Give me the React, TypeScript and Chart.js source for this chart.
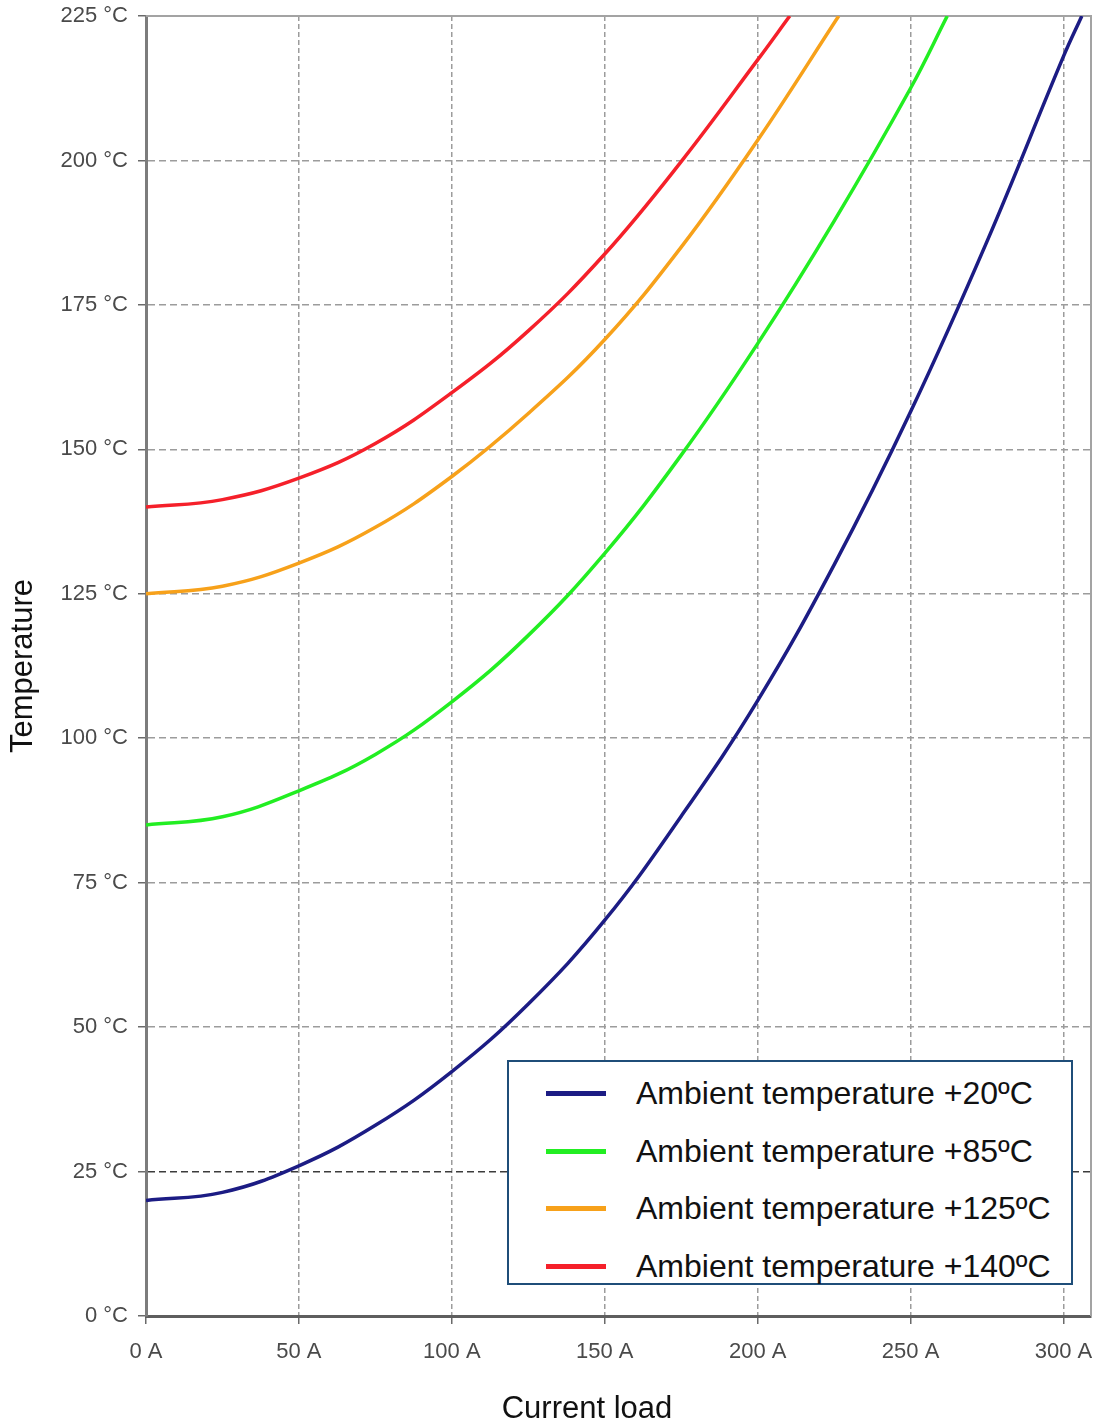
import React, { useEffect, useRef } from 'react';
import { Chart, registerables } from 'chart.js';

Chart.register(...registerables);

// ---- data ----
const seriesLabels = [
  'Ambient temperature +20ºC',
  'Ambient temperature +85ºC',
  'Ambient temperature +125ºC',
  'Ambient temperature +140ºC',
];
const seriesColors = ['#1c1c84', '#22ee22', '#f7a11a', '#f5202a'];

const amb20Current = [0, 25, 50, 75, 100, 125, 150, 175, 200, 225, 250, 275, 300, 306];
const amb20Temp = [20, 21.4, 26, 33, 42.3, 54, 68.5, 86.5, 106.5, 130, 156.5, 186, 218, 225];

const amb85Current = [0, 25, 50, 75, 100, 125, 150, 175, 200, 225, 250, 262];
const amb85Temp = [85, 86.4, 90.9, 97.2, 106.3, 117.8, 132, 149, 168.3, 189.5, 212.5, 225];

const amb125Current = [0, 25, 50, 75, 100, 125, 150, 175, 200, 226.5];
const amb125Temp = [125, 126.3, 130.3, 136.5, 145.3, 156.2, 169, 185, 203.5, 225];

const amb140Current = [0, 25, 50, 75, 100, 125, 150, 175, 200, 210.5];
const amb140Temp = [140, 141.3, 145, 151, 159.8, 170.5, 183.8, 199.8, 217.4, 225];

const xMin = 0;
const xMax = 309;
const xStep = 50;
const yMin = 0;
const yMax = 225;
const yStep = 25;
const xTitle = 'Current load';
const yTitle = 'Temperature';

const seriesCurrents = [amb20Current, amb85Current, amb125Current, amb140Current];
const seriesTemps = [amb20Temp, amb85Temp, amb125Temp, amb140Temp];

const FONT = "'Liberation Sans', Arial, Helvetica, sans-serif";

const framePlugin = {
  id: 'frameTopRight',
  beforeDatasetsDraw(chart: any) {
    const { ctx, chartArea } = chart;
    const { left, top, right, bottom } = chartArea;
    ctx.save();
    ctx.strokeStyle = '#a3a3a3';
    ctx.lineWidth = 2;
    ctx.beginPath();
    ctx.moveTo(left, top);
    ctx.lineTo(right, top);
    ctx.lineTo(right, bottom);
    ctx.stroke();
    ctx.restore();
  },
};

const zeroPadding = (s: any) => {
  s.paddingTop = 0;
  s.paddingBottom = 0;
  s.paddingLeft = 0;
  s.paddingRight = 0;
};

export default function App() {
  const ref = useRef<HTMLCanvasElement>(null);

  useEffect(() => {
    if (!ref.current) return;
    const datasets = seriesLabels.map((label, i) => ({
      label,
      data: seriesCurrents[i].map((x, j) => ({ x, y: seriesTemps[i][j] })),
      borderColor: seriesColors[i],
      backgroundColor: seriesColors[i],
      borderWidth: 3.5,
      pointRadius: 0,
      tension: 0.4,
      fill: false,
    }));

    const chart = new Chart(ref.current, {
      type: 'line',
      data: { datasets },
      plugins: [framePlugin],
      options: {
        animation: false,
        responsive: false,
        devicePixelRatio: 1,
        layout: { padding: { top: 16, right: 3, bottom: 0, left: 0 } },
        plugins: {
          legend: { display: false },
          tooltip: { enabled: false },
        },
        scales: {
          x: {
            type: 'linear',
            min: xMin,
            max: xMax,
            afterFit: (s: any) => {
              s.height = 108;
              zeroPadding(s);
            },
            ticks: {
              stepSize: xStep,
              includeBounds: false,
              padding: 15,
              color: '#4a4a4a',
              font: { family: FONT, size: 22 },
              maxRotation: 0,
              callback: (v: any) => `${v} A`,
            },
            grid: {
              color: '#9c9c9c',
              lineWidth: 1.5,
              drawTicks: true,
              tickLength: 8,
              tickColor: '#6a6a6a',
              tickWidth: 1.5,
              tickBorderDash: [],
            },
            border: { display: true, color: '#5e5e5e', width: 3, dash: [5, 3] },
          },
          y: {
            type: 'linear',
            min: yMin,
            max: yMax,
            afterFit: (s: any) => {
              s.width = 146;
              zeroPadding(s);
            },
            ticks: {
              stepSize: yStep,
              includeBounds: false,
              padding: 10,
              color: '#4a4a4a',
              font: { family: FONT, size: 22 },
              callback: (v: any) => `${v} °C`,
            },
            title: {
              display: true,
              text: yTitle,
              color: '#111',
              font: { family: FONT, size: 31 },
              padding: { top: 5, bottom: 0 },
            },
            grid: {
              color: (c: any) => (c.tick && c.tick.value === 25 ? '#3c3c3c' : '#9c9c9c'),
              lineWidth: 1.5,
              drawTicks: true,
              tickLength: 8,
              tickColor: '#6a6a6a',
              tickWidth: 1.5,
              tickBorderDash: [],
            },
            border: { display: true, color: '#7c7c7c', width: 3, dash: [7, 4] },
          },
        },
      },
    });
    return () => chart.destroy();
  }, []);

  const rowCenters = [33, 91, 148, 206];

  return (
    <div
      style={{
        position: 'absolute',
        left: 0,
        top: 0,
        width: 1094,
        height: 1424,
        background: '#fff',
        overflow: 'hidden',
      }}
    >
      <canvas
        ref={ref}
        width={1094}
        height={1424}
        style={{ display: 'block', width: 1094, height: 1424 }}
      />
      <div
        style={{
          position: 'absolute',
          left: 507,
          top: 1060,
          width: 566,
          height: 225,
          boxSizing: 'border-box',
          border: '2px solid #1f4e79',
          background: '#fff',
        }}
      >
        {seriesLabels.map((label, i) => (
          <React.Fragment key={label}>
            <div
              style={{
                position: 'absolute',
                left: 37,
                top: rowCenters[i] - 2 - 2.5,
                width: 60,
                height: 5,
                background: seriesColors[i],
              }}
            />
            <div
              style={{
                position: 'absolute',
                left: 127,
                top: rowCenters[i] - 2 - 16,
                fontFamily: FONT,
                fontSize: 32,
                lineHeight: '32px',
                color: '#111',
                whiteSpace: 'nowrap',
              }}
            >
              {label}
            </div>
          </React.Fragment>
        ))}
      </div>
      <div
        style={{
          position: 'absolute',
          left: 387,
          width: 400,
          top: 1392,
          textAlign: 'center',
          fontFamily: FONT,
          fontSize: 31,
          lineHeight: '31px',
          color: '#111',
          whiteSpace: 'nowrap',
        }}
      >
        {xTitle}
      </div>
    </div>
  );
}
